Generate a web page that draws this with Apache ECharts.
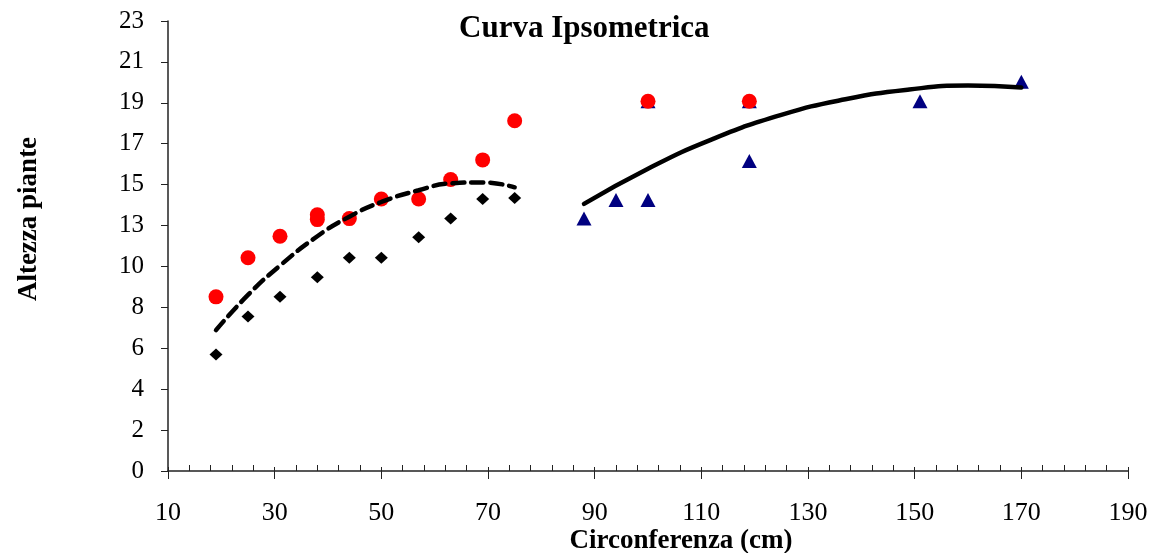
<!DOCTYPE html>
<html>
<head>
<meta charset="utf-8">
<title>Curva Ipsometrica</title>
<script src="https://cdn.jsdelivr.net/npm/echarts@6/dist/echarts.min.js"></script>
<style>
html,body{margin:0;padding:0;background:#fff;}
#main{width:1153px;height:553px;}
</style>
</head>
<body>
<div id="main"></div>
<script>
// dati
var circX   = [19, 25, 31, 38, 38, 44, 50, 57, 63, 69, 75, 100, 119];
var circY   = [8.9, 10.9, 12.0, 13.1, 12.85, 12.9, 13.9, 13.9, 14.9, 15.9, 17.9, 18.9, 18.9];
var diamX   = [19, 25, 31, 38, 44, 50, 57, 63, 69, 75];
var diamY   = [5.95, 7.9, 8.9, 9.9, 10.9, 10.9, 11.95, 12.9, 13.9, 13.95];
var triX    = [88, 94, 100, 100, 119, 119, 151, 170];
var triY    = [12.9, 13.85, 13.85, 18.9, 15.85, 18.9, 18.9, 19.9];
// linee di tendenza (punti letti lungo le curve)
var dashX   = [19, 25, 31, 38, 44, 50, 57, 63, 69, 75];
var dashY   = [7.2, 9.0, 10.5, 12.0, 13.0, 13.75, 14.35, 14.7, 14.75, 14.5];
var solidX  = [88, 100, 112, 125, 137, 149, 160, 170];
var solidY  = [13.65, 15.45, 16.95, 18.2, 19.0, 19.5, 19.7, 19.6];

function pairs(xs, ys){
	var out = [];
	for(var i=0;i<xs.length;i++){ out.push([xs[i], ys[i]]); }
	return out;
}

var serif = 'Liberation Serif';
var myChart = echarts.init(document.getElementById('main'));
var option = {
	backgroundColor:'#fff',
	animation:false,
	title:{
		text:'Curva Ipsometrica',
		left:454,
		top:8,
		textStyle:{fontFamily:serif,fontSize:31,fontWeight:'bold',color:'#000'}
	},
	grid:{left:168,right:25,top:21,bottom:82},
	xAxis:[
		{
			type:'value',min:10,max:190,interval:20,
			axisLine:{show:true,lineStyle:{color:'#222',width:1.5}},
			axisTick:{show:true,inside:true,length:4,lineStyle:{color:'#222'}},
			minorTick:{show:true,splitNumber:5,length:6,lineStyle:{color:'#222'}},
			axisLabel:{show:false},
			splitLine:{show:false}
		},
		{
			type:'value',min:10,max:190,interval:20,position:'bottom',
			axisLine:{show:false},
			axisTick:{show:true,inside:false,length:8,lineStyle:{color:'#222'}},
			axisLabel:{margin:29,fontFamily:serif,fontSize:26,color:'#000'},
			splitLine:{show:false}
		}
	],
	yAxis:{
		type:'value',min:0,max:23,interval:23/11,
		axisLine:{show:true,lineStyle:{color:'#222',width:1.5}},
		axisTick:{show:true,inside:false,length:7,lineStyle:{color:'#222'}},
		axisLabel:{margin:24,fontFamily:serif,fontSize:25,color:'#000',
			formatter:function(v){ return Math.round(v); }},
		splitLine:{show:false}
	},
	graphic:[
		{
			type:'text',x:681,y:541,
			style:{text:'Circonferenza (cm)',font:'bold 27px "Liberation Serif"',fill:'#000',align:'center',verticalAlign:'middle'}
		},
		{
			type:'text',x:29,y:219,rotation:Math.PI/2,
			style:{text:'Altezza piante',font:'bold 27px "Liberation Serif"',fill:'#000',align:'center',verticalAlign:'middle'}
		}
	],
	series:[
		{
			name:'diamanti',type:'scatter',data:pairs(diamX,diamY),
			symbol:'diamond',symbolSize:[13,12],itemStyle:{color:'#000',opacity:1}
		},
		{
			name:'triangoli',type:'scatter',data:pairs(triX,triY),
			symbol:'triangle',symbolSize:[15,14],itemStyle:{color:'#000080',opacity:1}
		},
		{
			name:'cerchi',type:'scatter',data:pairs(circX,circY),
			symbol:'circle',symbolSize:15,itemStyle:{color:'#ff0000',opacity:1}
		},
		{
			name:'tendenza 1',type:'line',data:pairs(dashX,dashY),smooth:0.5,
			showSymbol:false,symbol:'none',
			lineStyle:{color:'#000',width:4.5,type:[12,7],cap:'round'}
		},
		{
			name:'tendenza 2',type:'line',data:pairs(solidX,solidY),smooth:0.5,
			showSymbol:false,symbol:'none',
			lineStyle:{color:'#000',width:4.5,cap:'round'}
		}
	]
};
myChart.setOption(option);
</script>
</body>
</html>
